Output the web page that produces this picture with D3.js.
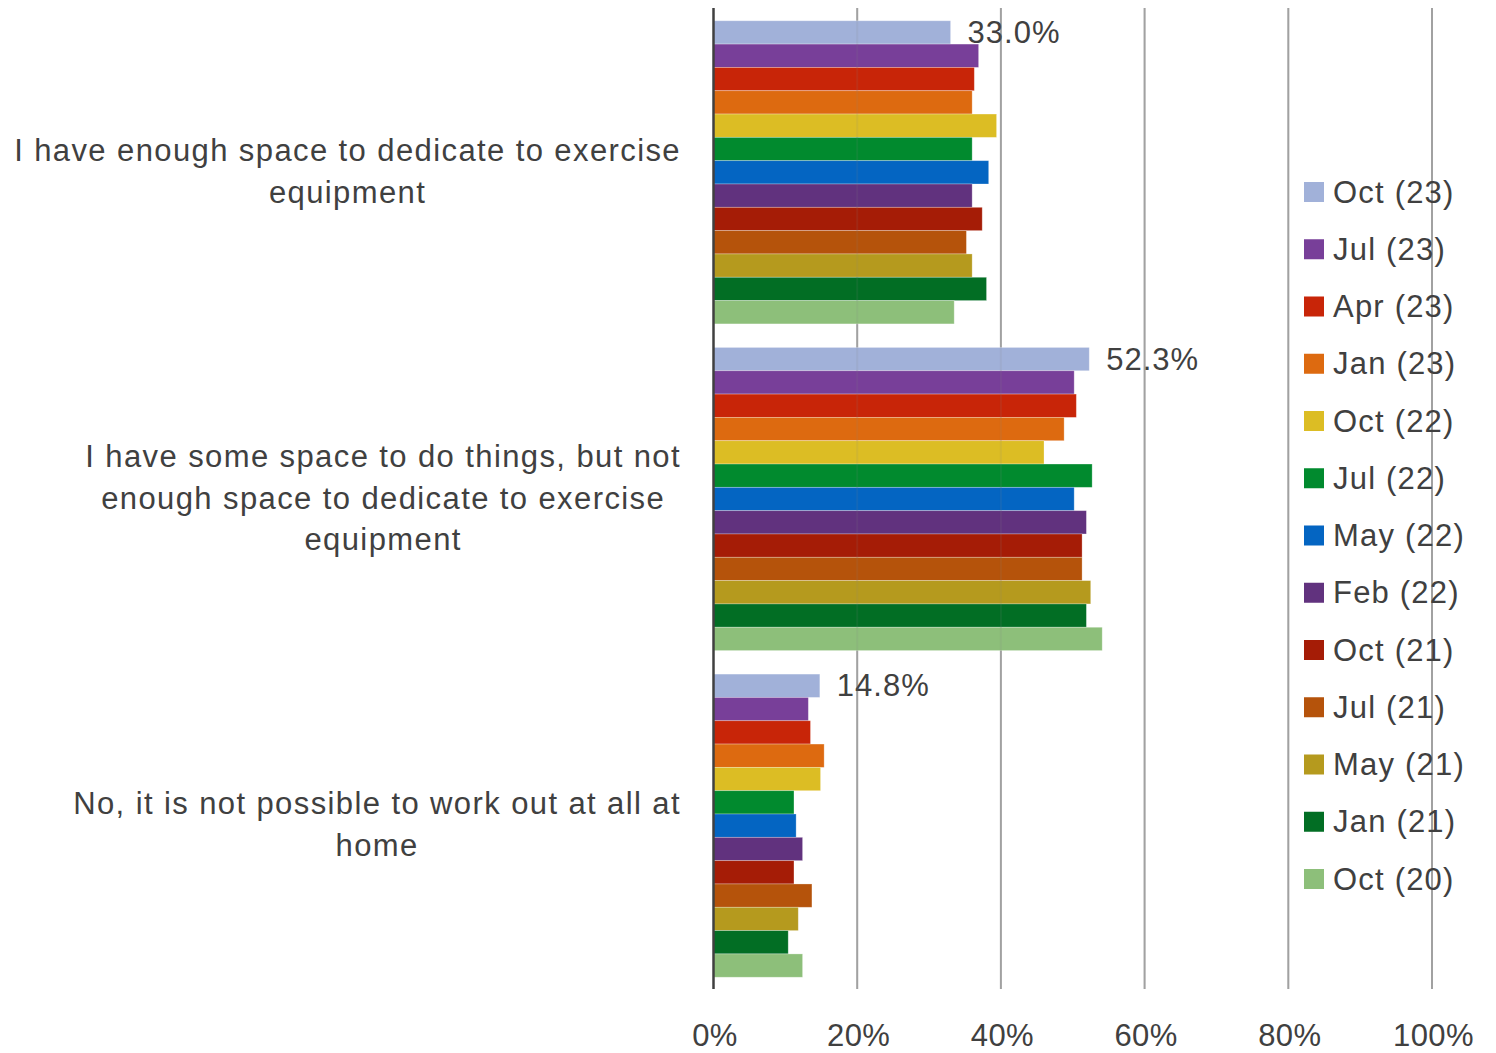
<!DOCTYPE html>
<html><head><meta charset="utf-8">
<script src="https://cdn.jsdelivr.net/npm/d3@7"></script>
<style>
body{margin:0;background:#fff}
text{font-family:"Liberation Sans",Arial,sans-serif;fill:#404040}
</style>
</head><body><svg id="c" width="1496" height="1053"></svg>
<script>
const categories = ["enough", "some", "none"];
const categoryLabels = [
  ["I have enough space to dedicate to exercise", "equipment"],
  ["I have some space to do things, but not", "enough space to dedicate to exercise", "equipment"],
  ["No, it is not possible to work out at all at", "home"]
];
const series = ["Oct (23)", "Jul (23)", "Apr (23)", "Jan (23)", "Oct (22)", "Jul (22)", "May (22)",
                "Feb (22)", "Oct (21)", "Jul (21)", "May (21)", "Jan (21)", "Oct (20)"];
const seriesColors = ["#a1b1d9", "#783f99", "#c82508", "#dd6a10", "#dcbd24", "#018a2e", "#0465c2",
                      "#61327e", "#a51c06", "#b5530b", "#b59a1e", "#026e24", "#8dbf7a"];
const valuesEnough = [33.0, 36.9, 36.3, 36.0, 39.4, 36.0, 38.3, 36.0, 37.4, 35.2, 36.0, 38.0, 33.5];
const valuesSome   = [52.3, 50.2, 50.5, 48.8, 46.0, 52.7, 50.2, 51.9, 51.3, 51.3, 52.5, 51.9, 54.1];
const valuesNone   = [14.8, 13.2, 13.5, 15.4, 14.9, 11.2, 11.5, 12.4, 11.2, 13.7, 11.8, 10.4, 12.4];
const xTicks = [0, 20, 40, 60, 80, 100];
const labelledSeries = "Oct (23)";

const valuesByCategory = [valuesEnough, valuesSome, valuesNone];
const data = [];
categories.forEach((c, ci) => series.forEach((s, si) =>
  data.push({cat: c, series: s, value: valuesByCategory[ci][si]})));

const svg = d3.select("#c");
const x = d3.scaleLinear().domain([0, 100]).range([713.5, 1432]);
const y = d3.scaleBand().domain(categories).range([9, 989]).paddingInner(0.072).paddingOuter(0.036);
const ys = d3.scaleBand().domain(series).range([0, y.bandwidth()]);
const color = d3.scaleOrdinal().domain(series).range(seriesColors);

// gridlines
svg.append("g").selectAll("line").data(xTicks.filter(t => t > 0)).join("line")
  .attr("x1", d => x(d)).attr("x2", d => x(d)).attr("y1", 8).attr("y2", 989)
  .attr("stroke", "#a6a6a6").attr("stroke-width", 2);

// bars
const gCat = svg.append("g").selectAll("g").data(categories).join("g")
  .attr("transform", d => `translate(0,${y(d)})`);
gCat.selectAll("rect").data(c => data.filter(d => d.cat === c)).join("rect")
  .attr("x", x(0)).attr("y", d => ys(d.series))
  .attr("width", d => x(d.value) - x(0)).attr("height", ys.bandwidth())
  .attr("fill", d => color(d.series))
  .attr("stroke", "rgba(255,255,255,0.35)").attr("stroke-width", 0.8);

// faint gridlines over bars
svg.append("g").selectAll("line").data(xTicks.filter(t => t > 0)).join("line")
  .attr("x1", d => x(d)).attr("x2", d => x(d)).attr("y1", 8).attr("y2", 989)
  .attr("stroke", "#808080").attr("stroke-opacity", 0.12).attr("stroke-width", 2);

// data labels
gCat.selectAll("text.lbl").data(c => data.filter(d => d.cat === c && d.series === labelledSeries)).join("text")
  .attr("class", "lbl")
  .attr("x", d => x(d.value) + 17).attr("y", d => ys(d.series) + ys.bandwidth() / 2)
  .attr("dominant-baseline", "central")
  .attr("font-size", 31).attr("letter-spacing", 1)
  .text(d => d.value.toFixed(1) + "%");

// zero axis line
svg.append("line").attr("x1", x(0)).attr("x2", x(0)).attr("y1", 8).attr("y2", 989)
  .attr("stroke", "#404040").attr("stroke-width", 2.5);

// x axis tick labels
const xAxis = d3.axisBottom(x).tickValues(xTicks).tickFormat(d => d + "%").tickSize(0).tickPadding(0);
const ax = svg.append("g").attr("transform", "translate(0,1046)").call(xAxis);
ax.select(".domain").remove();
ax.selectAll("text").attr("font-size", 31).attr("fill", "#404040")
  .attr("font-family", '"Liberation Sans",Arial,sans-serif').attr("dy", 0)
  .attr("y", 0).attr("letter-spacing", 0.4).attr("dx", 1);

// category labels (centered block, right edge at 680)
const lineH = 41.5;
categories.forEach((c, ci) => {
  const lines = categoryLabels[ci];
  const g = svg.append("g");
  const cy = y(c) + y.bandwidth() / 2 - 1;
  const texts = g.selectAll("text").data(lines).join("text")
    .attr("font-size", 31).attr("dominant-baseline", "central").attr("letter-spacing", 1.4)
    .attr("y", (d, i) => cy + (i - (lines.length - 1) / 2) * lineH)
    .text(d => d);
  let maxW = 0;
  texts.each(function() { maxW = Math.max(maxW, this.getComputedTextLength()); });
  texts.attr("text-anchor", "middle").attr("x", 681 - maxW / 2);
});

// legend
const legendY = d3.scalePoint().domain(series).range([192, 879]);
const lg = svg.append("g").selectAll("g").data(series).join("g")
  .attr("transform", d => `translate(1304,${legendY(d)})`);
lg.append("rect").attr("x", 0).attr("y", -10).attr("width", 20).attr("height", 20).attr("fill", d => color(d));
lg.append("text").attr("x", 29).attr("y", 0).attr("dominant-baseline", "central")
  .attr("font-size", 31).attr("letter-spacing", 1.2).text(d => d);
</script>
</body></html>
